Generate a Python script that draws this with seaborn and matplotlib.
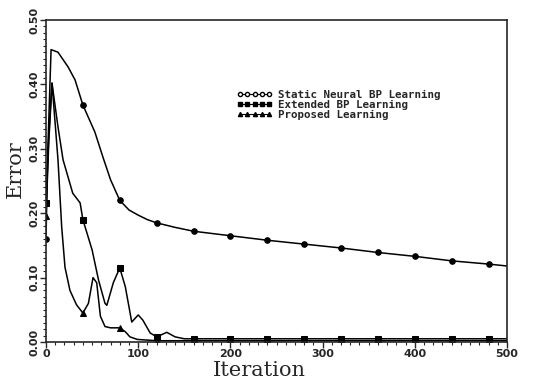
import numpy as np
import pandas as pd
import matplotlib
matplotlib.use('Agg')
import matplotlib.pyplot as plt
from matplotlib.lines import Line2D
from matplotlib.ticker import MultipleLocator
import seaborn as sns

# values
static_it = [0, 2, 5.5, 13, 24, 31.5, 40, 53, 62, 70, 80, 90, 100, 110, 120, 140, 160,
             200, 240, 280, 320, 360, 400, 440, 480, 500]
static_err = [0.160, 0.300, 0.454, 0.450, 0.427, 0.407, 0.368, 0.326, 0.286, 0.252, 0.220,
              0.205, 0.197, 0.190, 0.185, 0.178, 0.172, 0.165, 0.158, 0.152, 0.146, 0.139,
              0.133, 0.126, 0.121, 0.118]

ext_it = [0, 3, 6.5, 13, 18.5, 29, 37, 40, 50, 57, 64, 66, 73, 80, 86, 93, 100, 105,
          113, 120, 131, 140, 150, 160, 200, 240, 280, 320, 360, 400, 440, 480, 500]
ext_err = [0.216, 0.320, 0.402, 0.334, 0.283, 0.231, 0.216, 0.190, 0.143, 0.096, 0.060,
           0.057, 0.092, 0.115, 0.086, 0.031, 0.042, 0.034, 0.014, 0.008, 0.015, 0.008,
           0.005, 0.005, 0.005, 0.005, 0.005, 0.005, 0.005, 0.005, 0.005, 0.005, 0.005]

prop_it = [0, 3, 6.5, 13, 17, 20.6, 26, 33, 40, 46, 51, 55, 59, 64, 70, 80, 86, 91, 99,
           120, 160, 200, 240, 280, 320, 360, 400, 440, 480, 500]
prop_err = [0.196, 0.310, 0.402, 0.283, 0.179, 0.116, 0.080, 0.058, 0.045, 0.060, 0.100,
            0.092, 0.040, 0.024, 0.022, 0.022, 0.016, 0.008, 0.004, 0.002, 0.002, 0.002,
            0.002, 0.002, 0.002, 0.002, 0.002, 0.002, 0.002, 0.002]

labels = ['Static Neural BP Learning', 'Extended BP Learning', 'Proposed Learning']
markers = ['o', 's', '^']

sns.set_style('ticks')
plt.rcParams['font.family'] = ['DejaVu Sans']

fig = plt.figure(figsize=(5.53, 3.82), dpi=100)
ax = fig.add_axes([46 / 553, 40 / 382, 461 / 553, 322 / 382])

series = [(static_it, static_err), (ext_it, ext_err), (prop_it, prop_err)]
for (it, err), mk in zip(series, markers):
    df = pd.DataFrame({'Iteration': it, 'Error': err})
    mask = [(float(v) % 40 == 0) for v in it]
    sns.lineplot(data=df, x='Iteration', y='Error', ax=ax, color='black', lw=1.1,
                 marker=mk, markevery=mask, markersize=4, markerfacecolor='black',
                 markeredgecolor='black', sort=False, estimator=None)

ax.set_xlim(0, 500)
ax.set_ylim(0, 0.5)
ax.xaxis.set_minor_locator(MultipleLocator(10))
ax.yaxis.set_minor_locator(MultipleLocator(0.01))
ax.set_yticks(np.arange(0, 0.51, 0.1))
ax.set_yticklabels(['%.2f' % v for v in np.arange(0, 0.51, 0.1)], rotation=90,
                   va='center', fontweight='bold', fontsize=8)
ax.set_xticks(np.arange(0, 501, 100))
ax.set_xticklabels([str(v) for v in range(0, 501, 100)], fontweight='bold', fontsize=8)
ax.tick_params(which='major', length=4, width=1, pad=1)
ax.tick_params(which='minor', length=2.5, width=0.8)
for s in ax.spines.values():
    s.set_linewidth(1.2)

ax.set_xlabel('Iteration', family='DejaVu Serif', fontsize=15)
ax.set_ylabel('Error', family='DejaVu Serif', fontsize=15)
ax.xaxis.set_label_coords(0.462, -0.058)
ax.yaxis.set_label_coords(-0.045, 0.537)

handles = [Line2D([], [], color='black', lw=0.8, marker=m, markersize=3,
                  markerfacecolor=('white' if m == 'o' else 'black'), markeredgecolor='black')
           for m in markers]
ax.legend(handles, labels, loc='upper left', bbox_to_anchor=(0.403, 0.80), frameon=False,
          numpoints=5, handlelength=3.2, handletextpad=0.6, labelspacing=0,
          borderpad=0, prop={'family': 'DejaVu Sans Mono', 'weight': 'bold', 'size': 7.8})

fig.savefig('out.png', dpi=100)
